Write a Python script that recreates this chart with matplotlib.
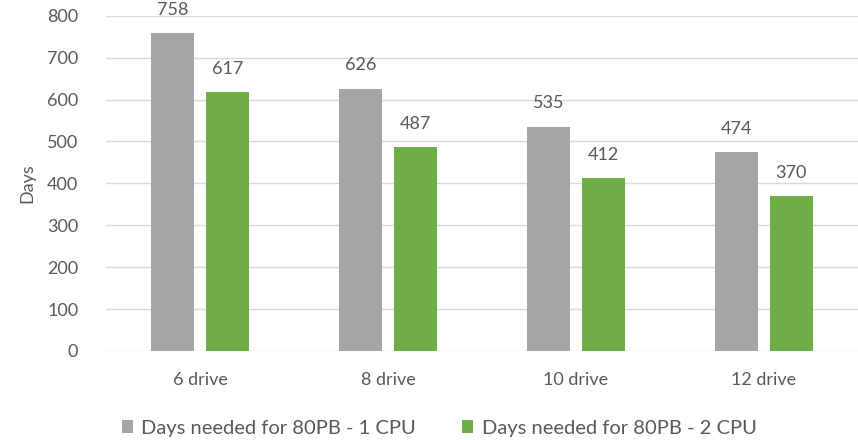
import numpy as np
import matplotlib.pyplot as plt

categories = ["6 drive", "8 drive", "10 drive", "12 drive"]
one_cpu = [758, 626, 535, 474]
two_cpu = [617, 487, 412, 370]
series_names = ["Days needed for 80PB - 1 CPU", "Days needed for 80PB - 2 CPU"]

plt.rcParams['font.family'] = ['Lato', 'DejaVu Sans']
txt = '#595959'

fig = plt.figure(figsize=(8.58, 4.40), dpi=100)
ax = fig.add_axes([0.1235, 0.2023, 0.8765, 0.762])

x = np.arange(len(categories))
w = 0.23
b1 = ax.bar(x - 0.145, one_cpu, w, color='#A5A5A5', label=series_names[0], zorder=3)
b2 = ax.bar(x + 0.145, two_cpu, w, color='#70AD47', label=series_names[1], zorder=3)

for bars, vals in ((b1, one_cpu), (b2, two_cpu)):
    for r, v in zip(bars, vals):
        ax.annotate(str(v), (r.get_x() + r.get_width() / 2, v), xytext=(0, 11),
                    textcoords='offset points', ha='center', va='bottom',
                    fontsize=13, color=txt, annotation_clip=False)

ax.set_xlim(-0.5, 3.5)
ax.set_ylim(0, 800)
ax.set_yticks(range(0, 801, 100))
ax.set_xticks(x)
ax.set_xticklabels(categories)
ax.tick_params(axis='both', length=0, labelsize=13, colors=txt)
ax.tick_params(axis='x', pad=15)
ax.tick_params(axis='y', pad=20)
ax.grid(axis='y', color='#D9D9D9', linewidth=1, zorder=0)
for s in ax.spines.values():
    s.set_visible(False)
ax.set_ylabel('Days', fontsize=13, color=txt, labelpad=8)

fig.legend(handles=[b1, b2], loc='center', bbox_to_anchor=(0.512, 0.027), ncol=2,
           frameon=False, fontsize=14.5, labelcolor=txt, handlelength=0.55,
           handleheight=0.55, handletextpad=0.4, columnspacing=2.3)

fig.savefig('out.png', dpi=100)
